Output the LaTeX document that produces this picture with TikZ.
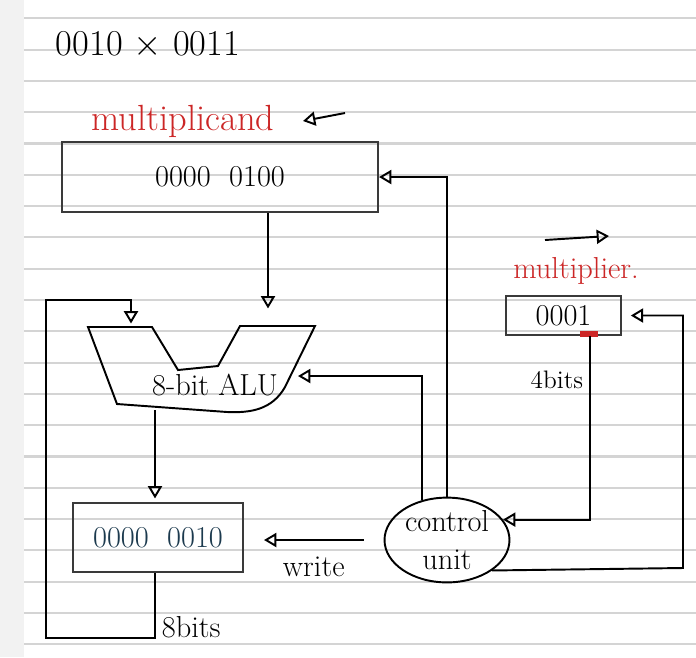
\documentclass[tikz,border=0pt]{standalone}
\usetikzlibrary{arrows.meta,shapes.geometric}

\definecolor{paperline}{RGB}{212,212,212}
\definecolor{sidebar}{RGB}{242,242,242}
\definecolor{penred}{RGB}{204,38,38}
\definecolor{penteal}{RGB}{28,58,78}
\definecolor{boxline}{RGB}{58,58,58}

\begin{document}
\begin{tikzpicture}[
            x=0.02cm,
            y=-0.02cm,
            >={Triangle[open,length=7pt,width=8pt]},
            every path/.style={line width=1.1pt},
            register/.style={
                draw=boxline,
                line width=1.2pt,
                inner sep=0pt,
                font=\LARGE
            },
            unit/.style={
                ellipse,
                draw,
                align=center,
                inner sep=0pt,
                minimum width=2.5cm,
                minimum height=1.52cm,
                font=\LARGE
            },
            redlabel/.style={text=penred}
        ]

            \useasboundingbox (0,0) rectangle (696,657);
            \fill[white] (0,0) rectangle (696,657);
            \fill[sidebar] (0,0) rectangle (24,657);
            \foreach \k in {0,...,20}
                \draw[paperline, line width=1.2pt] (24,{18.3+31.3*\k}) -- (696,{18.3+31.3*\k});

            \node[font=\huge] (title) at (148,45) {0010 $\times$ 0011};

            \node[redlabel, font=\huge] (mcandlabel) at (183,121) {multiplicand};
            \coordinate (mcshiftA) at (345,113);
            \coordinate (mcshiftB) at (303,121);
            \draw[->] (mcshiftA) -- (mcshiftB);

            \node[register, minimum width=6.32cm, minimum height=1.4cm] (mcand) at (220,177) {0000 \ 0100};

            \node[redlabel, font=\LARGE] (mplierlabel) at (576,271) {multiplier.};
            \coordinate (mpshiftA) at (545,240);
            \coordinate (mpshiftB) at (609,236);
            \draw[->] (mpshiftA) -- (mpshiftB);

            \node[register, minimum width=2.3cm, minimum height=0.78cm] (mplier) at (563.5,315.5) {0001};
            \draw[penred, line width=3pt] (580,334) -- (598,334);

            \draw (88,327) -- (152,327) -- (178,370) -- (218,366) -- (240,326) -- (315,326)
                -- (285,387) .. controls (272,410) and (250,413) .. (227,412) -- (117,404) -- cycle;
            \node[font=\LARGE] (alu) at (215,385) {8-bit ALU};
            \coordinate (aluL) at (131,327);
            \coordinate (aluR) at (268,326);
            \coordinate (aluE) at (298,376);
            \coordinate (aluB) at (155,410);

            \node[register, minimum width=3.4cm, minimum height=1.38cm, text=penteal] (prod) at (158,537.5) {0000 \ 0010};

            \node[unit] (ctrl) at (447,540) {control\\unit};

            \draw[->, shorten >=10pt] (mcand.south -| aluR) -- (aluR);
            \draw[->, shorten >=2pt] (aluB) -- (prod.north -| aluB);
            \draw[->, shorten >=2pt] (prod.south -| aluB) |- (46,638)
                node[pos=0.42, right, font=\LARGE] {8bits}
                -- (46,300) -| (aluL);

            \draw[->, shorten <=0.4cm, shorten >=0.4cm] (ctrl.west) -- (ctrl.west -| prod.east)
                node[midway, below=6pt, font=\LARGE] {write};
            \draw[->] (ctrl.north) |- (mcand.east);
            \draw[->] (ctrl.122) |- (aluE);

            \draw[->] ([xshift=0.53cm]mplier.south) |- (ctrl.20)
                node[pos=0.12, left, font=\Large] {4bits};
            \draw[->, shorten >=5pt] (ctrl.-34) -- (683,568) |- (mplier.east);

        \end{tikzpicture}
\end{document}
